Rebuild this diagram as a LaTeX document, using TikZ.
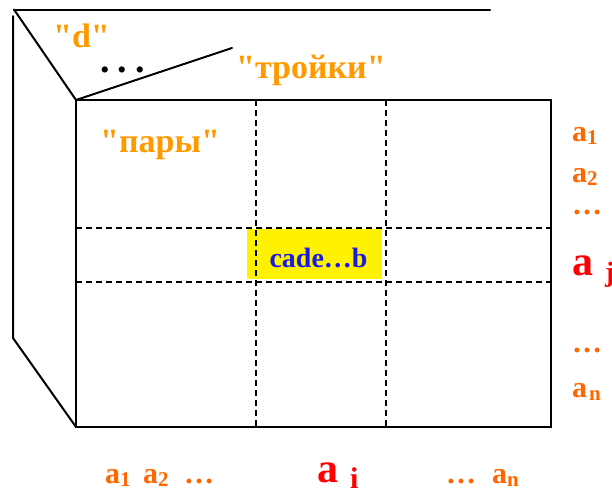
\documentclass[tikz,border=0pt]{standalone}
\usepackage{fontspec}
\setmainfont{Liberation Serif}[Ligatures=TeXOff]
\definecolor{amberT}{HTML}{FF9900}
\definecolor{orangeA}{HTML}{FF6600}
\definecolor{redA}{HTML}{FF0000}
\definecolor{blueT}{HTML}{1A1AE6}
\newcommand\subx[3]{{\fontsize{#1}{#1}\selectfont\raisebox{#2}{#3}}}
\newcommand\dq{\char34\relax}
\begin{document}
\begin{tikzpicture}[x=1pt,y=-1pt,
  solidline/.style={line width=2pt,line cap=round},
  dashline/.style={line width=1.5pt,dash pattern=on 6pt off 4pt},
  lbl/.style={inner sep=0pt,anchor=base west,font=\bfseries\fontsize{34}{36}\selectfont,text=amberT},
  alab/.style={inner sep=0pt,anchor=base west,font=\bfseries\fontsize{30}{32}\selectfont,text=orangeA},
  bigalab/.style={inner sep=0pt,anchor=base west,font=\bfseries\fontsize{42}{44}\selectfont,text=redA}]
\useasboundingbox (0,0) rectangle (612,490);
% coordinates
\coordinate (tl) at (14,9.5);
\coordinate (tr) at (490,9.5);
\coordinate (vt) at (13,16);
\coordinate (vb) at (13,338);
\coordinate (mid) at (232,48);
\coordinate (R1) at (76,100);
\coordinate (R2) at (551,100);
\coordinate (R3) at (551,427);
\coordinate (R4) at (76,427);
\coordinate (v1t) at (256,100); \coordinate (v1b) at (256,427);
\coordinate (v2t) at (386,100); \coordinate (v2b) at (386,427);
\coordinate (h1l) at (76,228); \coordinate (h1r) at (551,228);
\coordinate (h2l) at (76,282); \coordinate (h2r) at (551,282);
% yellow cell
\node[fill=yellow,inner sep=0pt,minimum width=135pt,minimum height=50pt] (cell) at (314.5,254) {};
% outer lines
\draw[solidline] (tl) -- (tr);
\draw[solidline] (tl) -- (R1);
\draw[solidline] (R1) -- (mid);
\draw[solidline] (vt) -- (vb) -- (R4);
\draw[solidline] (R1) -- (R2) -- (R3) -- (R4) -- cycle;
% dashed grid
\draw[dashline] (v1t) -- (v1b);
\draw[dashline] (v2t) -- (v2b);
\draw[dashline] (h1l) -- (h1r);
\draw[dashline] (h2l) -- (h2r);
% labels
\node[lbl] (d) at (53,47) {"d"};
\node[inner sep=0pt,anchor=base west,font=\bfseries\fontsize{38}{40}\selectfont] (dots) at (100,72) {.\hspace{8pt}.\hspace{8pt}.};
\node[lbl] (troiki) at (236,78) {"тройки"};
\node[lbl] (pary) at (100,152) {"пары"};
\node[inner sep=0pt,anchor=base,font=\bfseries\fontsize{28}{30}\selectfont,text=blueT] (cade) at (318.5,267) {cade…b};
% right labels
\node[alab] (ra1) at (572,141) {a\subx{21}{-3pt}{1}};
\node[alab] (ra2) at (572,182) {a\subx{21}{-3pt}{2}};
\node[alab] (rd1) at (572,214) {…};
\node[bigalab] (raj) at (572,275) {a\hspace{12pt}\subx{28}{-6pt}{j}};
\node[alab] (rd2) at (572,352) {…};
\node[alab] (ran) at (572,397) {a\hspace{2pt}\subx{21}{-3pt}{n}};
% bottom labels
\node[alab] (ba1) at (105,483) {a\subx{21}{-3pt}{1}};
\node[alab] (ba2) at (143,483) {a\subx{21}{-3pt}{2}};
\node[alab] (bd1) at (184,483) {…};
\node[bigalab] (bai) at (317,482) {a\hspace{12pt}\subx{30}{-6pt}{i}};
\node[alab] (bd2) at (446,483) {…};
\node[alab] (ban) at (492,483) {a\subx{21}{-3pt}{n}};
\end{tikzpicture}
\end{document}
